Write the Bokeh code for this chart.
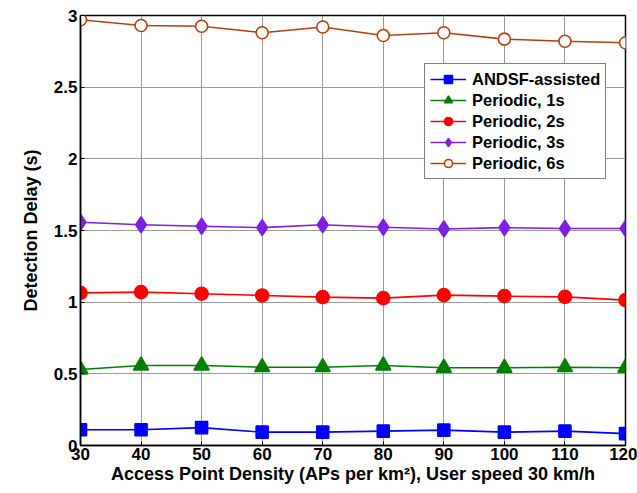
from bokeh.plotting import figure
from bokeh.models import FixedTicker, Legend, LegendItem, Range1d
from bokeh.embed import file_html
from bokeh.resources import INLINE

density = [30, 40, 50, 60, 70, 80, 90, 100, 110, 120]
andsf = [0.110, 0.110, 0.125, 0.093, 0.093, 0.100, 0.107, 0.093, 0.100, 0.083]
periodic_1s = [0.530, 0.558, 0.558, 0.546, 0.546, 0.558, 0.542, 0.542, 0.546, 0.542]
periodic_2s = [1.065, 1.070, 1.059, 1.047, 1.035, 1.028, 1.049, 1.042, 1.037, 1.014]
periodic_3s = [1.558, 1.540, 1.530, 1.520, 1.540, 1.523, 1.510, 1.520, 1.514, 1.514]
periodic_6s = [2.970, 2.930, 2.925, 2.880, 2.920, 2.860, 2.880, 2.835, 2.820, 2.810]

x_ticks = [30, 40, 50, 60, 70, 80, 90, 100, 110, 120]
y_ticks = [0, 0.5, 1, 1.5, 2, 2.5, 3]
y_tick_labels = ["0", "0.5", "1", "1.5", "2", "2.5", "3"]

FONT = "Liberation Sans"

p = figure(width=637, height=493, output_backend="svg", toolbar_location=None,
           x_range=Range1d(30, 120), y_range=Range1d(0, 3),
           min_border_left=80, min_border_right=12, min_border_top=15, min_border_bottom=48)
p.background_fill_color = "white"
p.border_fill_color = "white"
p.outline_line_color = "black"
p.outline_line_width = 1.5

for ax in (p.xaxis[0], p.yaxis[0]):
    ax.major_label_text_font = FONT
    ax.major_label_text_font_style = "bold"
    ax.major_label_text_font_size = "17px"
    ax.major_label_text_color = "black"
    ax.axis_label_text_font = FONT
    ax.axis_label_text_font_style = "bold"
    ax.axis_label_text_font_size = "18px"
    ax.axis_label_text_color = "black"
    ax.axis_line_color = "black"
    ax.axis_line_width = 1.5
    ax.major_tick_in = 4
    ax.major_tick_out = 0
    ax.minor_tick_line_color = None
    ax.major_label_standoff = 3

p.xaxis.ticker = FixedTicker(ticks=x_ticks)
p.yaxis.ticker = FixedTicker(ticks=y_ticks)
p.yaxis.major_label_overrides = {t: l for t, l in zip(y_ticks, y_tick_labels)}
p.xaxis.axis_label = "Access Point Density (APs per km²), User speed 30 km/h"
p.yaxis.axis_label = "Detection Delay (s)"
p.xaxis.major_label_standoff = 2
p.xaxis.axis_label_standoff = 1
p.yaxis.axis_label_standoff = 10

p.xgrid.ticker = FixedTicker(ticks=x_ticks)
p.ygrid.ticker = FixedTicker(ticks=y_ticks)
p.grid.grid_line_color = "#9a9a9a"
p.grid.grid_line_width = 1

series = [
    ("ANDSF-assisted", andsf, "#0000ff", "square", 12, "#0000ff"),
    ("Periodic, 1s", periodic_1s, "#007f00", "triangle", 15, "#007f00"),
    ("Periodic, 2s", periodic_2s, "#ff0000", "circle", 13, "#ff0000"),
    ("Periodic, 3s", periodic_3s, "#7f1fe0", "diamond", 16, "#7f1fe0"),
    ("Periodic, 6s", periodic_6s, "#b5400f", "circle", 12, "white"),
]

items = []
for name, ys, color, marker, size, fill in series:
    r1 = p.line(density, ys, line_color=color, line_width=1.6)
    r2 = p.scatter(density, ys, marker=marker, size=size, line_color=color,
                   fill_color=fill, line_width=1.6)
    items.append(LegendItem(label=name, renderers=[r1, r2]))

legend = Legend(items=items, location=(344, 266))
legend.label_text_font = FONT
legend.label_text_font_style = "bold"
legend.label_text_font_size = "16.5px"
legend.label_text_color = "black"
legend.border_line_color = "black"
legend.border_line_width = 1.2
legend.background_fill_alpha = 1
legend.glyph_width = 36
legend.glyph_height = 20
legend.label_height = 20
legend.spacing = 1
legend.padding = 5
legend.margin = 0
legend.label_standoff = 6
p.add_layout(legend, "center")

open("out.html", "w").write(file_html(p, INLINE))
